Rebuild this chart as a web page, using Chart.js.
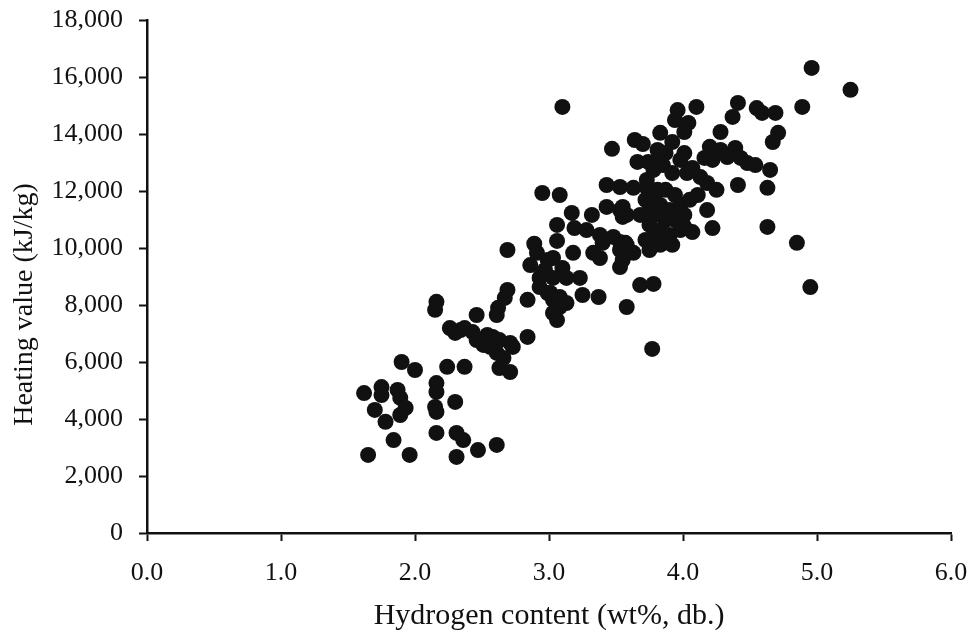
<!DOCTYPE html>
<html>
<head>
<meta charset="utf-8">
<script src="https://cdn.jsdelivr.net/npm/chart.js@4.4.1/dist/chart.umd.min.js"></script>
<style>
html,body{margin:0;padding:0;background:#fff;}
#wrap{width:975px;height:634px;}
</style>
</head>
<body>
<div id="wrap"><canvas id="c" width="975" height="634"></canvas></div>
<script>
// Hydrogen content (wt%, db.)
const hydrogen = [
1.62,1.75,1.75,1.87,1.89,1.93,1.89,1.70,1.78,1.84,1.65,1.96,2.16,2.16,2.15,2.16,2.30,2.16,2.31,2.36,2.31,2.47,2.61,1.90,2.00,2.24,2.37,2.63,2.71,
2.16,2.15,2.46,2.26,2.34,2.43,2.54,2.46,2.51,2.56,2.63,2.71,2.73,2.61,2.66,2.84,2.58,2.30,2.37,2.69,2.67,2.62,2.61,2.69,
2.89,2.91,3.06,3.18,2.86,2.99,3.03,2.97,2.93,3.03,3.13,3.23,2.93,3.01,3.08,3.06,3.13,2.84,2.99,3.03,3.08,3.03,3.06,3.25,3.37,3.10,2.95,
2.95,3.08,3.17,3.32,3.43,3.53,3.58,3.06,3.19,3.28,3.38,3.40,3.48,3.53,3.58,3.33,3.38,3.53,3.55,3.53,
3.43,3.53,3.63,3.73,3.81,
3.68,3.78,3.58,3.77,3.10,3.47,3.64,3.70,3.66,3.74,
3.96,4.10,4.41,4.37,3.94,4.04,4.01,4.28,3.83,3.92,
3.81,3.87,3.81,3.85,4.01,3.98,3.92,4.03,3.78,3.73,
4.20,4.28,4.39,4.16,4.22,4.33,4.43,4.48,
4.07,4.13,4.18,4.25,4.41,4.63,
3.79,3.87,3.94,3.83,3.90,3.98,3.79,3.87,3.94,4.01,3.83,3.90,3.98,3.75,3.72,3.83,3.92,4.05,4.11,3.75,3.68,3.72,
4.18,4.22,4.01,4.07,3.75,3.78,3.55,3.55,3.57,3.63,
4.96,5.25,4.89,4.55,4.59,4.69,4.71,4.67,4.54,4.65,4.63,4.85,4.95
];
// Heating value (kJ/kg)
const heating = [
4910,5120,4840,5020,4740,4390,4140,4320,3900,3260,2740,2740,5260,4950,4420,4250,4600,3510,3510,3260,2670,2910,3090,6000,5720,5830,5830,5790,5650,
8110,7830,7650,7190,7120,7050,6950,6770,6600,6530,6770,6670,6530,6320,6140,6880,6880,7020,7190,8530,8250,7900,7650,9930,
10150,9830,10250,9830,9400,9580,9650,9230,8950,8950,8950,8950,8630,8420,8280,7930,8070,8180,8420,8180,7930,7720,7470,8350,8280,9300,9100,
11930,11860,11230,11160,11440,11330,11160,10810,10700,10630,10460,10180,10390,10210,10110,9830,9650,9930,9580,9330,
12210,12140,12110,12110,12040,
8700,8740,7930,6460,14950,13480,13790,13650,13020,13020,
14840,14950,15090,14600,14490,14390,14070,14070,14040,13720,
13440,13330,13090,12910,13330,13090,12630,12630,12740,12390,
13550,13440,13510,13160,13090,13190,13160,12980,
12810,12490,12280,12040,12210,12110,
11860,12040,11860,11510,11330,11510,11160,10980,10980,11160,10630,10460,10630,10810,10280,10110,10110,11690,11860,11510,11160,11690,
11330,10700,10740,10560,9930,10390,11440,11090,10180,9830,
16320,15550,14950,14910,14740,14740,14040,13720,12910,12740,10740,10180,8630
];
const xTicks = [0,1,2,3,4,5,6];
const yTicks = [0,2000,4000,6000,8000,10000,12000,14000,16000,18000];
const xTitle = 'Hydrogen content (wt%, db.)';
const yTitle = 'Heating value (kJ/kg)';

const points = hydrogen.map((h,i)=>({x:h,y:heating[i]}));
const FONT = 'Liberation Serif, Times New Roman, serif';
const INK = '#111111';

new Chart(document.getElementById('c'), {
  type: 'scatter',
  data: { datasets: [{ data: points, backgroundColor: INK, borderColor: INK, borderWidth: 0, pointRadius: 8, pointHoverRadius: 8 }] },
  options: {
    responsive: false, animation: false, devicePixelRatio: 1,
    layout: { padding: { left: 0, right: 24, top: 20, bottom: 0 } },
    plugins: { legend: { display: false }, tooltip: { enabled: false } },
    scales: {
      x: {
        type: 'linear', min: 0, max: 6,
        afterBuildTicks: s => { s.ticks = xTicks.map(v => ({ value: v })); },
        afterFit: s => { s.height = 101; s.paddingLeft = 0; s.paddingRight = 0; },
        border: { display: true, color: INK, width: 2.5 },
        grid: { display: true, drawOnChartArea: false, drawTicks: true, tickLength: 8, tickWidth: 2, tickColor: INK },
        ticks: { color: INK, padding: 17, font: { family: FONT, size: 26 }, callback: v => Number(v).toFixed(1), maxRotation: 0 },
        title: { display: true, text: xTitle, color: INK, font: { family: FONT, size: 30 }, padding: { top: 0, bottom: 0 } }
      },
      y: {
        type: 'linear', min: 0, max: 18000,
        afterBuildTicks: s => { s.ticks = yTicks.map(v => ({ value: v })); },
        afterFit: s => { s.width = 147; s.paddingTop = 0; s.paddingBottom = 0; },
        border: { display: true, color: INK, width: 2.5 },
        grid: { display: true, drawOnChartArea: false, drawTicks: true, tickLength: 8, tickWidth: 2, tickColor: INK },
        ticks: { color: INK, padding: 16, font: { family: FONT, size: 26 }, callback: v => Number(v).toLocaleString('en-US') },
        title: { display: true, text: yTitle + '        ', color: INK, font: { family: FONT, size: 28 }, padding: { top: 8, bottom: 0 } }
      }
    }
  }
});
</script>
</body>
</html>
